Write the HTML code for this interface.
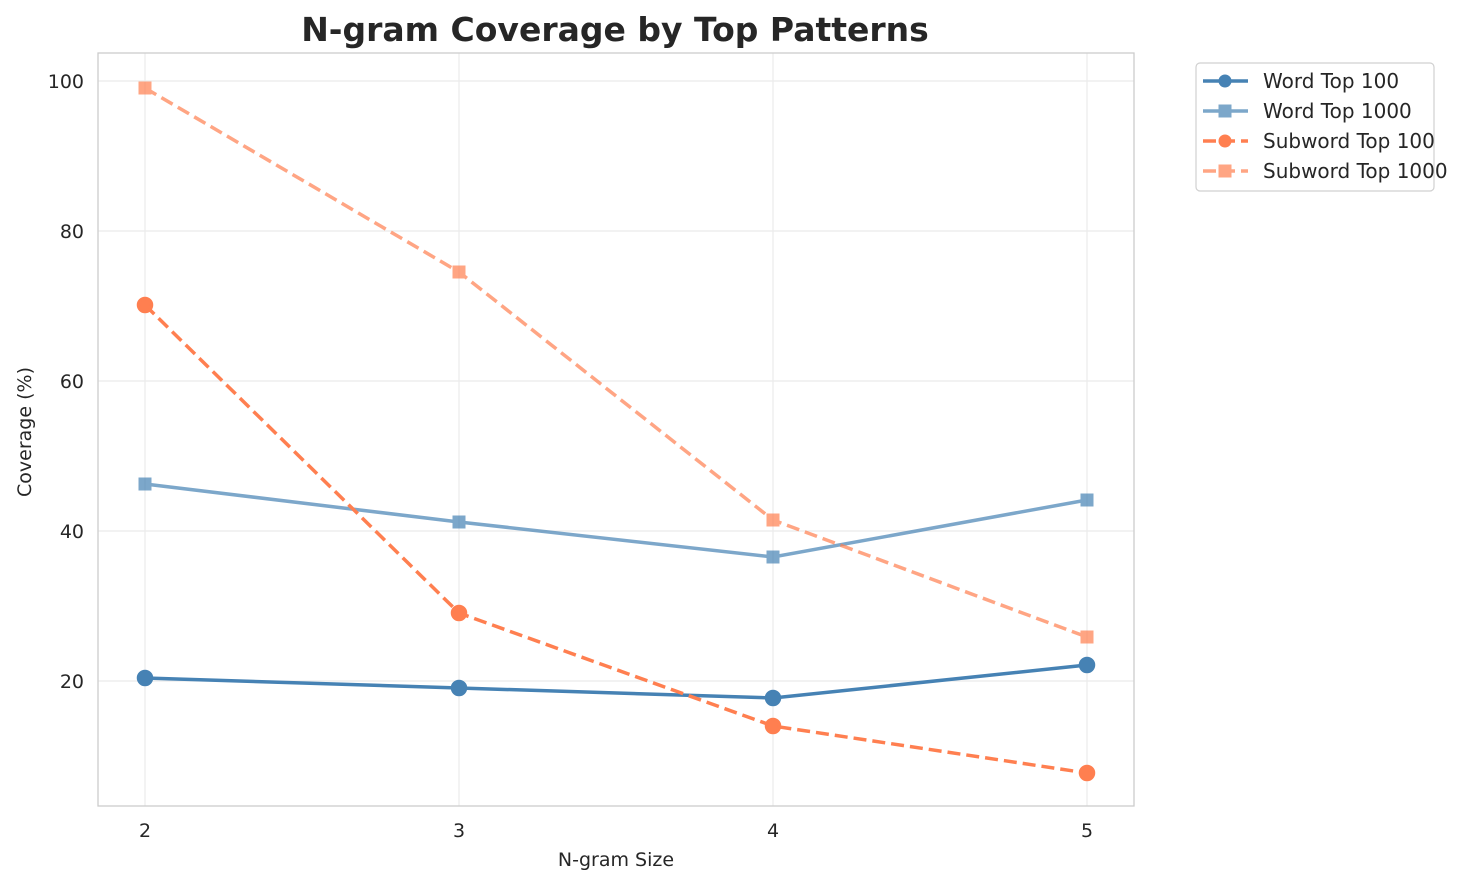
<!DOCTYPE html>
<html><head><meta charset="utf-8"><style>
html,body{margin:0;padding:0;background:#fff;}
svg{display:block;font-family:"DejaVu Sans","Liberation Sans",sans-serif;}
</style></head><body>
<svg width="1478" height="885" viewBox="0 0 1478 885" xmlns="http://www.w3.org/2000/svg">
<rect width="1478" height="885" fill="#fff"/>
<text x="615" y="41" text-anchor="middle" font-size="33" font-weight="bold" fill="#262626">N-gram Coverage by Top Patterns</text>
<g stroke="#ebebeb" stroke-width="1.2">
<line x1="145" y1="53" x2="145" y2="806"/><line x1="459" y1="53" x2="459" y2="806"/>
<line x1="773" y1="53" x2="773" y2="806"/><line x1="1087" y1="53" x2="1087" y2="806"/>
<line x1="98" y1="81" x2="1134" y2="81"/><line x1="98" y1="231" x2="1134" y2="231"/>
<line x1="98" y1="381" x2="1134" y2="381"/><line x1="98" y1="531" x2="1134" y2="531"/>
<line x1="98" y1="681" x2="1134" y2="681"/>
</g>
<rect x="98" y="53" width="1036" height="753" fill="none" stroke="#cccccc" stroke-width="1.3"/>
<g font-size="19" fill="#262626">
<text x="145" y="837" text-anchor="middle">2</text><text x="459" y="837" text-anchor="middle">3</text>
<text x="773" y="837" text-anchor="middle">4</text><text x="1087" y="837" text-anchor="middle">5</text>
<text x="84" y="88" text-anchor="end">100</text><text x="84" y="238" text-anchor="end">80</text>
<text x="84" y="388" text-anchor="end">60</text><text x="84" y="538" text-anchor="end">40</text>
<text x="84" y="688" text-anchor="end">20</text>
<text x="616" y="866" text-anchor="middle">N-gram Size</text>
<text transform="translate(31,432) rotate(-90)" text-anchor="middle">Coverage (%)</text>
</g>
<g stroke="#4682b4" fill="#4682b4" opacity="0.7" stroke-width="3.5">
<polyline fill="none" points="145,484 459,522 773,557 1087,500"/>
<rect x="139" y="478" width="12" height="12" stroke-width="1"/><rect x="453" y="516" width="12" height="12" stroke-width="1"/>
<rect x="767" y="551" width="12" height="12" stroke-width="1"/><rect x="1081" y="494" width="12" height="12" stroke-width="1"/>
</g>
<g stroke="#4682b4" fill="#4682b4" stroke-width="3.5">
<polyline fill="none" points="145,678 459,688 773,698 1087,665"/>
<circle cx="145" cy="678" r="6.5"/><circle cx="459" cy="688" r="6.5"/><circle cx="773" cy="698" r="6.5"/><circle cx="1087" cy="665" r="6.5"/>
</g>
<g stroke="#ff7f50" fill="#ff7f50" opacity="0.7" stroke-width="3.5">
<polyline fill="none" stroke-dasharray="13,6" points="145,88 459,272 773,520 1087,637"/>
<rect x="139" y="82" width="12" height="12" stroke-width="1"/><rect x="453" y="266" width="12" height="12" stroke-width="1"/>
<rect x="767" y="514" width="12" height="12" stroke-width="1"/><rect x="1081" y="631" width="12" height="12" stroke-width="1"/>
</g>
<g stroke="#ff7f50" fill="#ff7f50" stroke-width="3.5">
<polyline fill="none" stroke-dasharray="13,6" points="145,305 459,613 773,726 1087,773"/>
<circle cx="145" cy="305" r="6.5"/><circle cx="459" cy="613" r="6.5"/><circle cx="773" cy="726" r="6.5"/><circle cx="1087" cy="773" r="6.5"/>
</g>
<rect x="1196" y="63" width="238" height="128" rx="4" fill="#fff" stroke="#d0d0d0" stroke-width="1.2"/>
<g stroke-width="3.5">
<line x1="1203" y1="81" x2="1248" y2="81" stroke="#4682b4"/><circle cx="1225" cy="81" r="6.5" fill="#4682b4"/>
<g opacity="0.7"><line x1="1203" y1="111" x2="1248" y2="111" stroke="#4682b4"/><rect x="1219" y="105" width="12" height="12" fill="#4682b4" stroke="#4682b4" stroke-width="1"/></g>
<line x1="1203" y1="141" x2="1248" y2="141" stroke="#ff7f50" stroke-dasharray="13,6"/><circle cx="1225" cy="141" r="6.5" fill="#ff7f50"/>
<g opacity="0.7"><line x1="1203" y1="171" x2="1248" y2="171" stroke="#ff7f50" stroke-dasharray="13,6"/><rect x="1219" y="165" width="12" height="12" fill="#ff7f50" stroke="#ff7f50" stroke-width="1"/></g>
</g>
<g font-size="20" fill="#262626">
<text x="1263" y="88">Word Top 100</text><text x="1263" y="118">Word Top 1000</text>
<text x="1263" y="148">Subword Top 100</text><text x="1263" y="178">Subword Top 1000</text>
</g>
</svg>
</body></html>
